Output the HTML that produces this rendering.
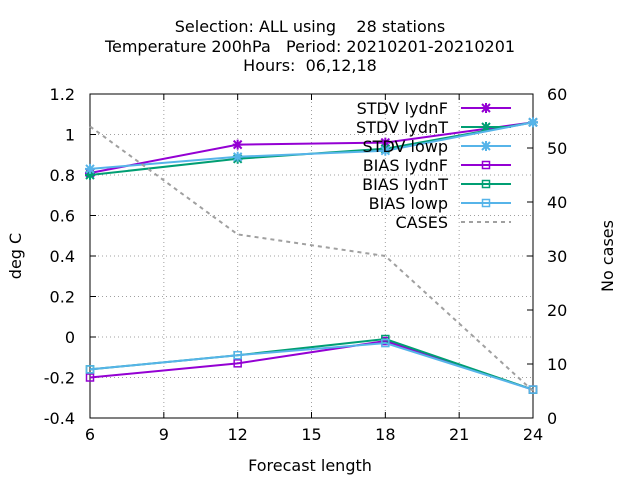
<!DOCTYPE html>
<html><head><meta charset="utf-8"><style>body{margin:0;background:#fff}svg{display:block;font-family:"DejaVu Sans","Liberation Sans",sans-serif}</style></head>
<body>
<svg id="c" width="640" height="480">
<g id="g"></g>
</svg>
<script>
const xCats=[6,12,18,24];
const stdvF=[0.81,0.95,0.96,1.06];
const stdvT=[0.80,0.88,0.93,1.06];
const stdvL=[0.83,0.89,0.92,1.06];
const biasF=[-0.20,-0.13,-0.02,-0.26];
const biasT=[-0.16,-0.09,-0.01,-0.26];
const biasL=[-0.16,-0.09,-0.03,-0.26];
const cases=[54,34,30,5];
const xTicks=[6,9,12,15,18,21,24];
const yTicks=[-0.4,-0.2,0,0.2,0.4,0.6,0.8,1,1.2];
const y2Ticks=[0,10,20,30,40,50,60];
const L=90,R=533,T=94,B=418;
const FS=16;
const X=v=>L+(v-6)/18*(R-L);
const Y=v=>B-(v+0.4)/1.6*(B-T);
const Y2=v=>B-v/60*(B-T);
const NS='http://www.w3.org/2000/svg';
const g=document.getElementById('g');
function el(t,a,txt){const e=document.createElementNS(NS,t);for(const k in a)e.setAttribute(k,a[k]);if(txt!==undefined)e.textContent=txt;g.appendChild(e);return e;}
xTicks.forEach(v=>{const x=X(v);
 const gl=el('line',{x1:x,x2:x,y1:T,y2:B,stroke:'#a0a0a0','stroke-dasharray':'1,3'});
 
 el('line',{x1:x,x2:x,y1:B,y2:B-6,stroke:'#000'});el('line',{x1:x,x2:x,y1:T,y2:T+6,stroke:'#000'});
 const t=el('text',{x:x,y:B+22,'text-anchor':'middle','font-size':FS},v);
 });
yTicks.forEach(v=>{const y=Y(v);
 const gl=el('line',{x1:L,x2:R,y1:y,y2:y,stroke:'#a0a0a0','stroke-dasharray':'1,3'});
 
 el('line',{x1:L,x2:L+6,y1:y,y2:y,stroke:'#000'});
 const t=el('text',{x:L-15,y:y+6,'text-anchor':'end','font-size':FS},(Math.round(v*10)/10).toString());
 });
y2Ticks.forEach(v=>{const y=Y2(v);
 el('line',{x1:R,x2:R-6,y1:y,y2:y,stroke:'#000'});
 const t=el('text',{x:R+14,y:y+6,'text-anchor':'start','font-size':FS},v);
 });
const fr=el('rect',{x:L,y:T,width:R-L,height:B-T,fill:'none',stroke:'#000'});

[['Selection: ALL using    28 stations',32],['Temperature 200hPa   Period: 20210201-20210201',52],['Hours:  06,12,18',71]].forEach(([s,y])=>{
 const t=el('text',{x:310,y:y,'text-anchor':'middle','font-size':FS},s);
 t.style.whiteSpace='pre';});
let t=el('text',{x:310,y:471,'text-anchor':'middle','font-size':FS},'Forecast length');

t=el('text',{x:21,y:256,'text-anchor':'middle','font-size':FS,transform:'rotate(-90 21 256)'},'deg C');

t=el('text',{x:613,y:256,'text-anchor':'middle','font-size':FS,transform:'rotate(-90 613 256)'},'No cases');

function star(x,y,c){el('path',{d:`M${x-4},${y-4}L${x+4},${y+4}M${x-4},${y+4}L${x+4},${y-4}M${x-5},${y}L${x+5},${y}M${x},${y-5}L${x},${y+5}`,stroke:c,'stroke-width':2});}
function sq(x,y,c){el('rect',{x:x-3.5,y:y-3.5,width:7,height:7,fill:'none',stroke:c,'stroke-width':1.5});}
const series=[['STDV lydnF',stdvF,'#9400d3',star],['STDV lydnT',stdvT,'#009e73',star],['STDV lowp',stdvL,'#56b4e9',star],
['BIAS lydnF',biasF,'#9400d3',sq],['BIAS lydnT',biasT,'#009e73',sq],['BIAS lowp',biasL,'#56b4e9',sq]];
const LS=19;
series.forEach(([n,d,c,m],i)=>{
 const p=el('polyline',{points:d.map((v,j)=>X(xCats[j])+','+Y(v)).join(' '),fill:'none',stroke:c,'stroke-width':2});
 
 d.forEach((v,j)=>m(X(xCats[j]),Y(v),c));
 const ly=108+i*LS;
 const lt=el('text',{x:448,y:ly+6,'text-anchor':'end','font-size':FS},n);
 
 el('line',{x1:461,x2:511,y1:ly,y2:ly,stroke:c,'stroke-width':2});m(486,ly,c);
});
const cp=el('polyline',{points:cases.map((v,j)=>X(xCats[j])+','+Y2(v)).join(' '),fill:'none',stroke:'#a0a0a0','stroke-width':2,'stroke-dasharray':'4,4'});

const ly=108+6*LS;
const lt=el('text',{x:448,y:ly+6,'text-anchor':'end','font-size':FS},'CASES');

el('line',{x1:461,x2:511,y1:ly,y2:ly,stroke:'#a0a0a0','stroke-width':2,'stroke-dasharray':'4,4'});
</script>
</body></html>
